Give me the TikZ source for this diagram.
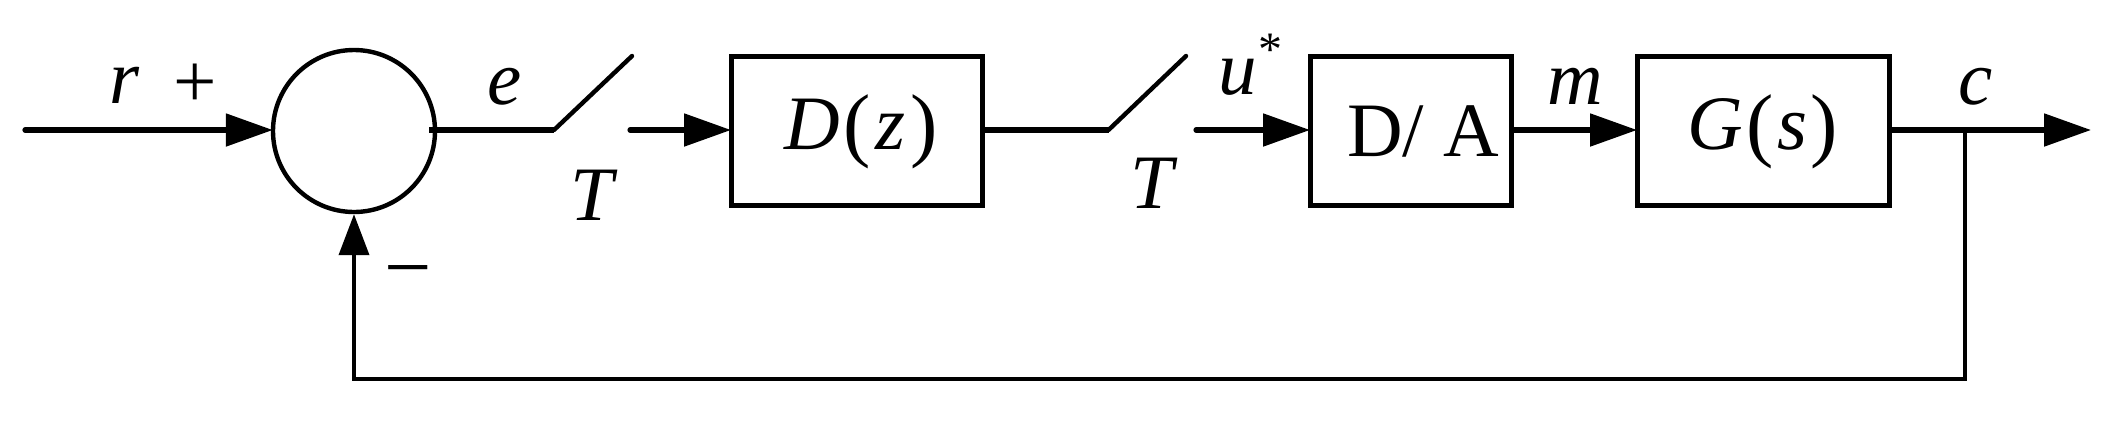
\documentclass[tikz,border=0pt]{standalone}
\usepackage{fontspec}
\setmainfont{Liberation Serif}
\usetikzlibrary{arrows.meta}
\newcommand{\myLP}{\raisebox{-1.2pt}{\fontsize{41}{42}\selectfont(}}
\newcommand{\myRP}{\raisebox{-1.2pt}{\fontsize{41}{42}\selectfont)}}
\tikzset{
  blockbox/.style={draw=black,line width=2.7pt,inner sep=0pt,minimum height=74.3pt,anchor=north west},
  sumcircle/.style={draw=black,circle,line width=2.2pt,inner sep=0pt,minimum size=81pt},
  lbl/.style={inner sep=0pt,outer sep=0pt,anchor=base west,font=\fontsize{38.5}{40}\selectfont},
  sig/.style={line width=2.6pt,line cap=round,shorten >=-1pt,-{Triangle[length=23.5pt,width=16pt]}},
  plainwire/.style={line width=2.6pt},
  thinwire/.style={line width=1.9pt,line join=miter}
}
\begin{document}
\begin{tikzpicture}[x=0.5pt,y=-0.5pt]
\useasboundingbox (0,0) rectangle (2128,424);
% blocks
\node[sumcircle] (sum) at (354,131) {};
\node[blockbox,minimum width=125.3pt] (dz) at (729,54) {};
\node[blockbox,minimum width=100.3pt] (da) at (1308,54) {};
\node[blockbox,minimum width=125.8pt] (gs) at (1635,54) {};
% free ends
\coordinate (rin) at (25,130);
\coordinate (estub) at (429,130);
\coordinate (sw1k) at (554,130);
\coordinate (sw1t) at (632,56);
\coordinate (sw1o) at (630,130);
\coordinate (sw2k) at (1108.5,130);
\coordinate (sw2t) at (1186,56);
\coordinate (sw2o) at (1196,130);
\coordinate (brch) at (1965,130);
\coordinate (out) at (2089,130);
\coordinate (fbr) at (1965,379);
\coordinate (fbl) at (354,379);
% connectors
\draw[sig] (rin) -- (sum.west |- rin);
\draw[plainwire] (estub) -- (sw1k);
\draw[plainwire,line width=2.2pt,line cap=round] (sw1k) -- (sw1t);
\draw[sig] (sw1o) -- (dz.west |- sw1o);
\draw[plainwire] (dz.east |- sw2k) -- (sw2k);
\draw[plainwire,line width=2.2pt,line cap=round] (sw2k) -- (sw2t);
\draw[sig] (sw2o) -- (da.west |- sw2o);
\draw[sig,line cap=butt] (da.east |- brch) -- (gs.west |- brch);
\draw[sig,line cap=butt] (gs.east |- brch) -- (out);
\draw[thinwire,-{Triangle[length=20.5pt,width=15pt]}] (brch) -- (fbr) -- (fbl) -- (sum.south);
% labels
\node[lbl] (lr) at (109,103) {\textit{r}};
\node[lbl] (lplus) at (173,107) {+};
\node[lbl] (le) at (487,104) {\textit{e}};
\node[lbl] (lt1) at (570,220) {\textit{T}};
\node[lbl] (lt2) at (1130,208) {\textit{T}};
\node[lbl] (ldz) at (784,149) {\textit{D}\kern1.7pt\myLP\kern2.5pt\textit{z}\kern2.75pt\myRP};
\node[lbl] (lu) at (1218,94) {\textit{u}};
\node[lbl,font=\fontsize{24}{26}\selectfont] (lstar) at (1258,65) {*};
\node[lbl] (lda) at (1347,156) {D/ A};
\node[lbl] (lm) at (1547,104) {\textit{m}};
\node[lbl] (lgs) at (1687.5,149) {\textit{G}\kern1.5pt\myLP\kern2pt\textit{s}\kern1.75pt\myRP};
\node[lbl] (lc) at (1958,104) {\textit{c}};
\node[lbl,font=\fontsize{42}{44}\selectfont] (lminus) at (384,295.5) {−};
\end{tikzpicture}
\end{document}
